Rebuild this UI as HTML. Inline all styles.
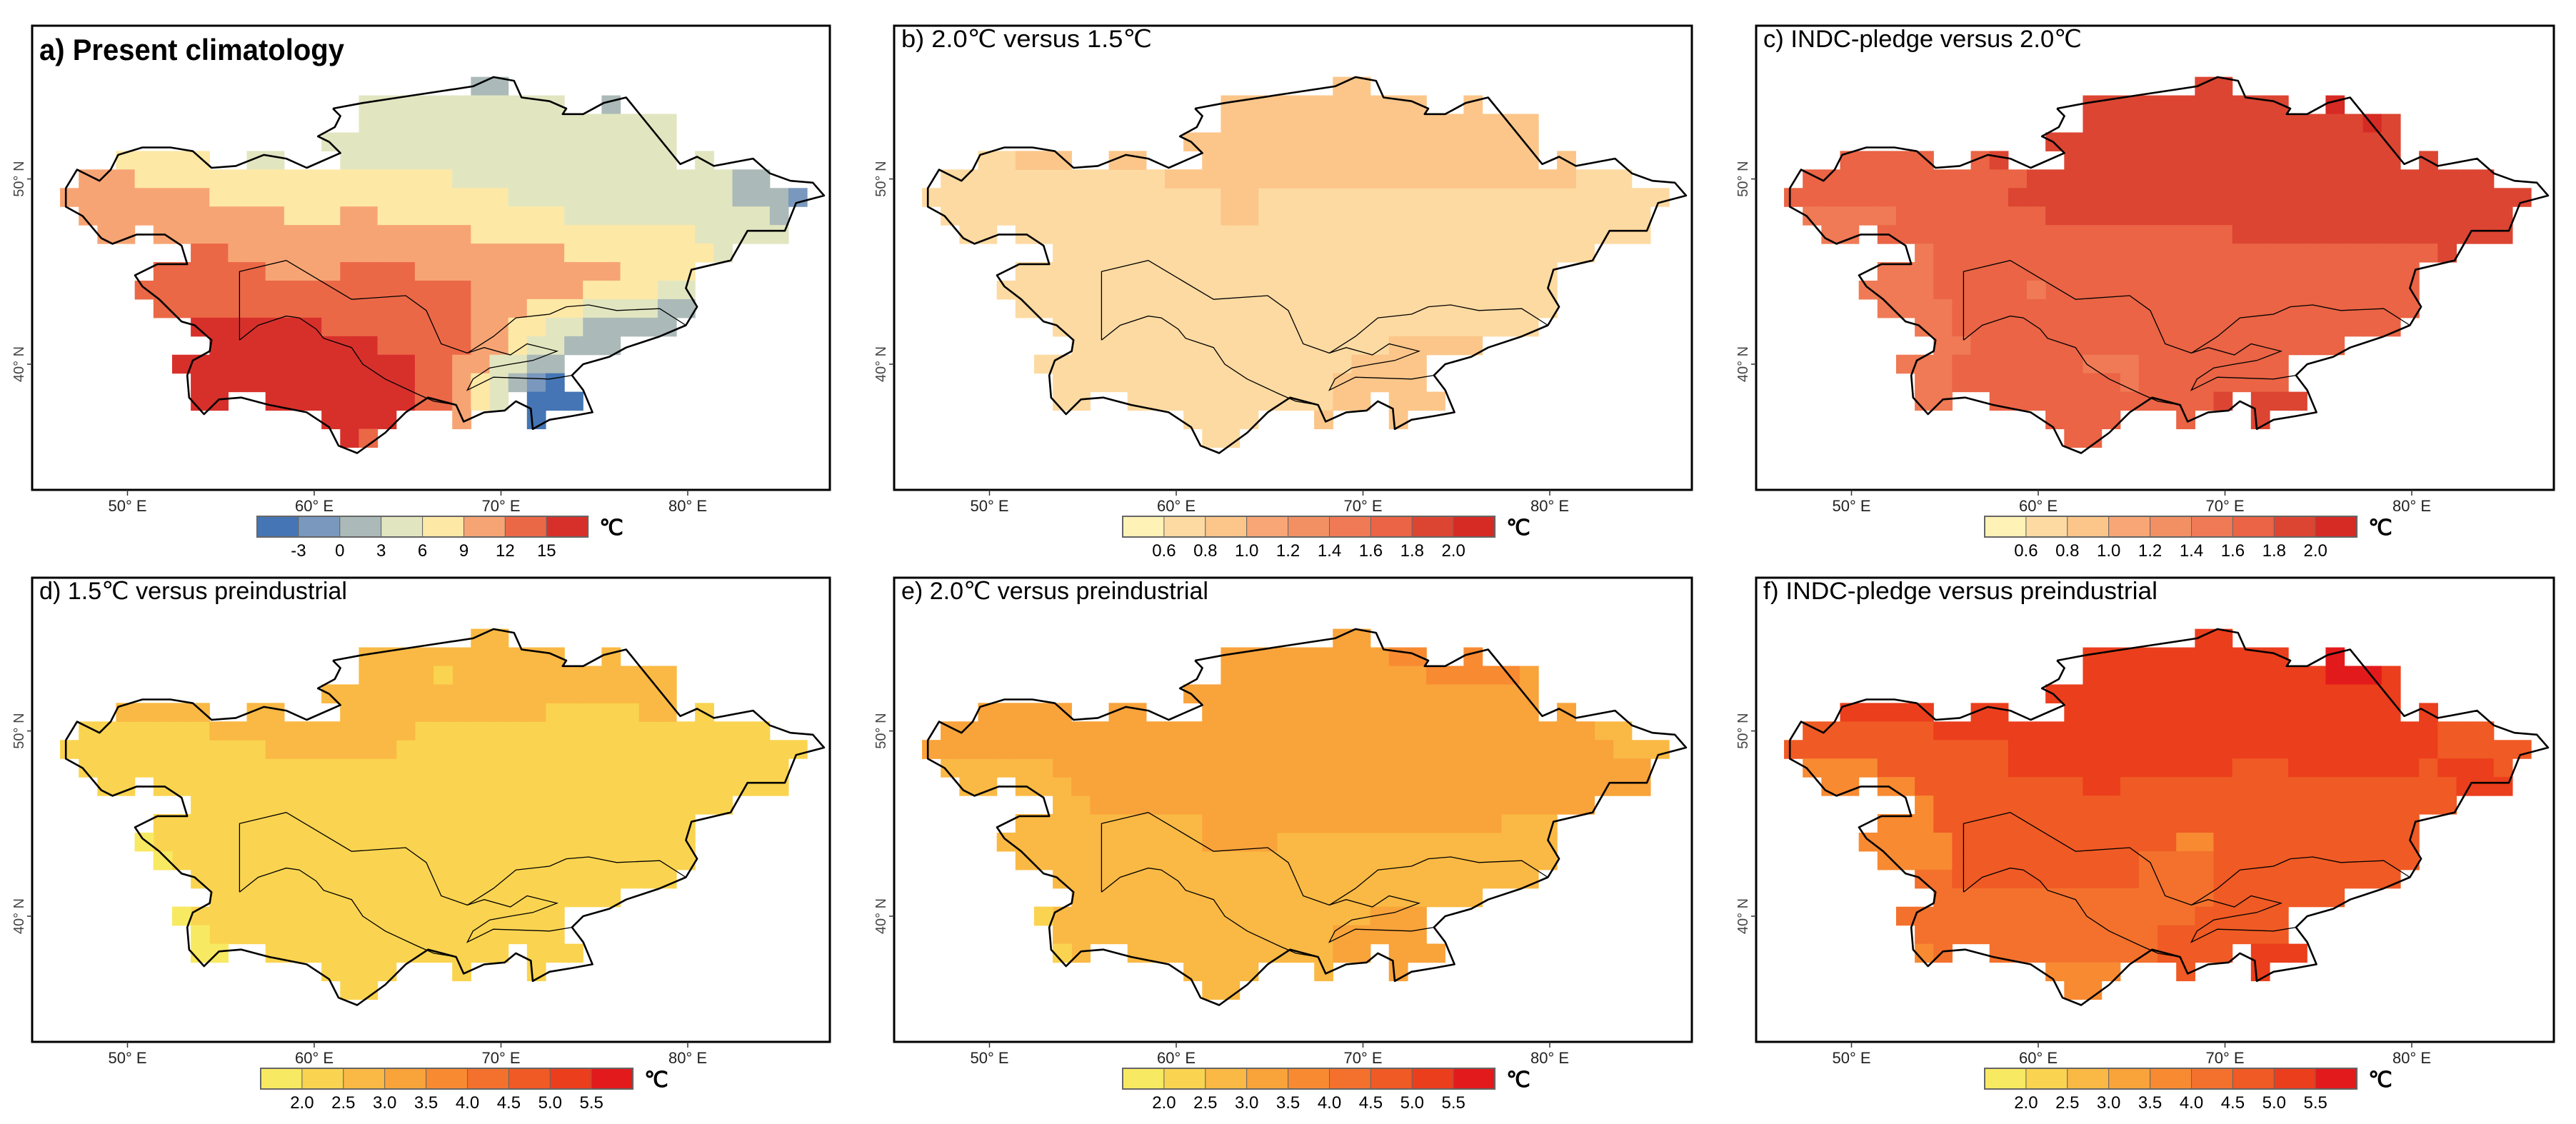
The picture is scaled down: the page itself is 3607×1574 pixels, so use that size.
<!DOCTYPE html>
<html><head><meta charset="utf-8"><style>
html,body{margin:0;padding:0;background:#fff;}
svg{display:block;}
text{font-family:"Liberation Sans Narrow","Liberation Sans",sans-serif;}
</style></head>
<body>
<svg id="fig" xmlns="http://www.w3.org/2000/svg" width="3607" height="1574" viewBox="0 0 3607 1574"></svg>
<script>
// ---------- data ----------
const panelTitles = ["a) Present climatology","b) 2.0\u2103 versus 1.5\u2103","c) INDC-pledge versus 2.0\u2103","d) 1.5\u2103 versus preindustrial","e) 2.0\u2103 versus preindustrial","f) INDC-pledge versus preindustrial"];
const lonTicks = [50,60,70,80];
const latTicks = [50,40];
const cbLabelsA = ["-3","0","3","6","9","12","15"];
const cbLabelsBC = ["0.6","0.8","1.0","1.2","1.4","1.6","1.8","2.0"];
const cbLabelsDF = ["2.0","2.5","3.0","3.5","4.0","4.5","5.0","5.5"];
const colorsA = ['#4575b4','#7a98be','#abbab8','#e2e6c0','#fee8a6','#f7a474','#eb6847','#d7302b'];
const colorsBC = ['#fff2b6','#fddaa2','#fcc68a','#f8a676','#f29064','#ef7a55','#ea6445','#dc4532','#d62a24'];
const colorsDF = ['#f8e962','#fad450','#fab944','#f9a33b','#f88a32','#f3712d','#f05a24','#eb3e1c','#e31a1c'];
const maskRows = [[55,68,69],[54,62,72],[54,75,75],[53,62,78],[52,60,78],[51,49,53],[51,56,57],[51,61,78],[51,80,80],[50,47,83],[49,46,85],[48,47,84],[47,48,49],[47,51,84],[46,53,81],[45,51,79],[44,50,79],[43,51,79],[42,53,78],[41,54,75],[40,52,72],[39,53,72],[38,53,54],[38,57,69],[38,71,73],[37,60,63],[37,67,67],[37,71,71],[36,61,62]];
const runsA = [[55,68,69,2],[54,62,72,3],[54,75,75,2],[53,62,78,3],[52,60,78,3],
[51,49,53,4],[51,56,57,3],[51,61,78,3],[51,80,80,3],
[50,47,49,5],[50,50,66,4],[50,67,81,3],[50,82,83,2],
[49,46,53,5],[49,54,69,4],[49,70,81,3],[49,82,84,2],[49,85,85,1],
[48,47,57,5],[48,58,60,4],[48,61,62,5],[48,63,72,4],[48,73,83,3],[48,84,84,2],
[47,48,49,5],[47,51,67,5],[47,68,79,4],[47,80,84,3],
[46,53,54,6],[46,55,72,5],[46,73,80,4],[46,81,81,3],
[45,51,56,6],[45,57,60,5],[45,61,64,6],[45,65,75,5],[45,76,79,4],
[44,50,67,6],[44,68,73,5],[44,74,77,4],[44,78,79,3],
[43,51,67,6],[43,68,70,5],[43,71,73,4],[43,74,77,3],[43,78,79,2],
[42,53,59,7],[42,60,67,6],[42,68,69,5],[42,70,71,4],[42,72,73,3],[42,74,78,2],
[41,54,62,7],[41,63,67,6],[41,68,69,5],[41,70,70,4],[41,71,72,3],[41,73,75,2],
[40,52,64,7],[40,65,66,6],[40,67,68,5],[40,69,70,3],[40,71,72,2],
[39,53,64,7],[39,65,66,6],[39,67,67,5],[39,68,68,4],[39,69,69,3],[39,70,70,2],[39,71,71,1],[39,72,72,0],
[38,53,54,7],[38,57,64,7],[38,65,66,6],[38,67,67,5],[38,68,68,4],[38,69,69,3],[38,71,73,0],
[37,60,63,7],[37,67,67,5],[37,71,71,0],[36,61,61,7],[36,62,62,6]];
const baseB = 1;
const runsB = [[55,68,69,2],[54,62,72,2],[54,75,75,2],[53,62,78,2],[52,60,78,2],
[51,51,53,2],[51,56,57,2],[51,61,78,2],[51,80,80,2],[50,59,80,2],[49,62,63,2],[48,62,63,2],
[41,71,75,2],[40,69,72,2],[39,68,72,2],[38,68,69,2],[38,71,73,2],[37,67,67,2],[37,71,71,2]];
const runsC = [[55,68,69,7],[54,62,72,7],[54,75,75,8],[53,62,76,7],[53,77,77,8],[53,78,78,7],[52,60,78,7],
[51,49,53,6],[51,56,56,6],[51,57,57,7],[51,61,78,7],[51,80,80,7],
[50,47,58,6],[50,59,83,7],[49,46,57,6],[49,58,85,7],
[48,47,51,5],[48,52,59,6],[48,60,84,7],
[47,48,49,5],[47,51,69,6],[47,70,84,7],
[46,53,53,5],[46,54,80,6],[46,81,81,7],
[45,51,53,5],[45,54,79,6],
[44,50,53,5],[44,54,79,6],[44,59,59,5],
[43,51,54,5],[43,55,79,6],[42,53,54,5],[42,55,78,6],[41,54,55,5],[41,56,75,6],
[40,52,54,5],[40,55,61,6],[40,62,64,5],[40,65,72,6],
[39,53,54,5],[39,55,63,6],[39,64,64,5],[39,65,72,6],
[38,53,54,5],[38,57,68,6],[38,69,69,7],[38,71,73,7],
[37,60,63,6],[37,67,67,6],[37,71,71,7],[36,61,62,6]];
const baseD = 1;
const runsD = [[55,68,69,2],[54,62,72,2],[54,75,75,2],[53,62,78,2],[53,66,66,1],[52,60,78,2],
[51,49,53,2],[51,56,57,2],[51,61,71,2],[51,77,78,2],[50,54,64,2],[49,57,63,2],
[44,50,50,0],[43,51,51,0],[40,52,52,0],[39,53,53,0],[38,53,54,0]];
const baseE = 2;
const runsE = [[55,68,69,3],[54,62,70,3],[54,71,72,4],[54,75,75,4],[53,62,72,3],[53,73,77,4],[53,78,78,3],[52,60,78,3],
[51,49,53,3],[51,56,57,3],[51,61,78,3],[51,80,80,3],
[50,47,81,3],[49,46,82,3],[48,53,84,3],[47,54,84,3],[46,55,81,3],[45,61,76,3],[44,61,64,3],
[40,70,72,3],[39,68,72,3],[38,68,69,3],[38,71,73,3],[37,71,71,3],[40,52,52,1],[38,53,53,1]];
const runsF = [[55,68,69,7],[54,62,72,7],[54,75,75,8],[53,62,74,7],[53,75,77,8],[53,78,78,7],[52,60,78,7],
[51,49,53,7],[51,56,57,7],[51,61,78,7],[51,80,80,7],
[50,47,53,6],[50,54,80,7],[50,81,83,6],[49,46,57,6],[49,58,80,7],[49,81,85,6],
[48,47,50,4],[48,51,57,6],[48,58,69,7],[48,70,72,6],[48,73,79,7],[48,80,80,6],[48,81,83,7],[48,84,84,6],
[47,48,49,4],[47,51,52,4],[47,53,61,6],[47,62,63,7],[47,64,81,6],[47,82,84,7],
[46,53,53,4],[46,54,81,6],[45,51,53,4],[45,54,79,6],
[44,50,54,4],[44,55,66,6],[44,67,68,4],[44,69,79,6],
[43,51,54,4],[43,55,64,6],[43,65,68,5],[43,69,79,6],
[42,53,54,5],[42,55,64,6],[42,65,68,5],[42,69,78,6],
[41,54,68,5],[41,69,75,6],[40,52,67,5],[40,68,72,6],[39,53,65,5],[39,66,72,6],
[38,53,53,4],[38,54,54,5],[38,57,65,5],[38,66,69,6],[38,71,73,7],
[37,60,63,4],[37,67,67,6],[37,71,71,7],[36,61,62,4]];
const outerLon = [61.0,62.6,65.2,68.5,69.6,70.7,71.1,72.6,73.5,73.3,74.4,75.5,76.7,79.6,80.5,81.4,83.5,84.4,85.5,86.7,87.3,85.8,85.2,83.2,82.3,80.2,79.9,80.5,79.9,78.5,76.7,75.8,74.4,73.8,74.4,74.9,73.8,72.6,71.7,71.6,70.8,70.2,69.1,68.0,67.6,66.1,64.9,63.8,62.3,61.3,60.8,59.6,57.6,56.1,54.9,54.1,53.3,53.2,53.5,54.4,54.5,53.6,52.9,51.7,50.8,50.4,51.6,53.2,52.9,52.0,50.5,49.2,48.6,47.6,46.7,46.7,47.3,48.5,49.1,49.5,50.8,52.3,53.5,54.5,55.8,57.3,58.5,59.6,61.4,60.8,60.2,61.1,61.4,61.0];
const outerLat = [53.8,54.1,54.5,55.0,55.5,55.3,54.4,54.2,53.8,53.5,53.5,54.1,54.4,50.8,51.2,50.7,51.1,50.3,49.9,49.8,49.1,48.7,47.2,47.2,45.6,45.1,44.1,43.1,42.1,41.5,40.9,40.4,40.0,39.4,38.6,37.4,37.2,37.0,36.5,37.6,38.0,37.5,37.4,36.9,37.8,38.2,37.4,36.3,35.2,35.6,36.6,37.4,37.8,38.2,38.1,37.3,38.2,39.4,40.2,40.7,41.3,42.1,42.3,43.5,44.2,44.8,45.4,45.4,46.4,47.0,47.0,46.5,46.8,48.0,48.5,49.5,50.5,49.9,50.5,51.3,51.7,51.7,51.5,50.6,50.7,51.3,51.1,50.6,51.4,52.0,52.3,52.8,53.4,53.8];
const borderLines = [
 [[56.0,56.0,58.5,62.0,64.9,66.0,66.8,68.2,69.6,70.8,72.6,73.5,74.7,76.2,78.5,79.9],[41.3,45.0,45.6,43.5,43.7,42.9,41.1,40.6,41.5,42.5,42.7,43.1,43.2,42.9,43.0,42.1]],
 [[56.0,57.0,58.5,59.2,60.1,60.5,62.0,62.6,63.8,65.5,66.4,67.6],[41.3,42.1,42.6,42.5,41.9,41.4,40.9,40.0,39.2,38.4,38.0,37.8]],
 [[68.2,69.1,70.5,71.4,73.0,71.7,70.5,69.4,68.5,68.2,69.6,72.6,73.8],[40.6,40.9,40.5,41.1,40.7,40.2,40.0,39.8,39.2,38.6,39.3,39.2,39.4]]
];
// ---------- layout ----------
const panelX = [45,1252,2459,45,1252,2459];
const panelY = [36,36,36,809,809,809];
const PW = 1117, PH = 650;
const NS = "http://www.w3.org/2000/svg";
const svg = document.getElementById('fig');
function mk(tag, attrs, parent){const e=document.createElementNS(NS,tag);for(const k in attrs)e.setAttribute(k,attrs[k]);(parent||svg).appendChild(e);return e;}
function xs(ox,lon){return ox+133.5+(lon-50)*26.15;}
function ys(oy,lat){return oy+214.6-(lat-50)*25.94;}

function drawPanel(i, base, runs, colors, labels){
  const ox=panelX[i], oy=panelY[i];
  const g=mk('g',{});
  
  
  const cell=(lat,L,c)=>{
    const r=mk('rect',{x:xs(ox,L+0.4)-0.3,y:ys(oy,lat+0.5)-0.3,width:26.75,height:26.5,fill:colors[c]},g);
    
    
  };
  if(base!==null){for(const m of maskRows){for(let L=m[1];L<=m[2];L++)cell(m[0],L,base);}}
  for(const r of runs){for(let L=r[1];L<=r[2];L++)cell(r[0],L,r[3]);}
  let pts=outerLon.map((lo,k)=>xs(ox,lo).toFixed(1)+','+ys(oy,outerLat[k]).toFixed(1)).join(' ');
  const ol=mk('polyline',{points:pts,fill:'none',stroke:'#000','stroke-width':2.6,'stroke-linejoin':'round'},g);
  
  
  for(const b of borderLines){
    const p=b[0].map((lo,k)=>xs(ox,lo).toFixed(1)+','+ys(oy,b[1][k]).toFixed(1)).join(' ');
    const bl=mk('polyline',{points:p,fill:'none',stroke:'#000','stroke-width':1.3},g);
    
    
  }
  const fr=mk('rect',{x:ox,y:oy,width:PW,height:PH,fill:'none',stroke:'#000','stroke-width':3},g);
  
  
  const t=mk('text',{x:ox+10,y:oy+(i===0?48:30),'font-size':i===0?42:34,'font-weight':i===0?'bold':'normal',fill:'#000'},g);
  t.textContent=panelTitles[i];
  const tw=[427,351,446,431,430,552][i];
  t.setAttribute('textLength',tw);t.setAttribute('lengthAdjust','spacingAndGlyphs');
  
  
  for(const lo of lonTicks){
    const x=xs(ox,lo);
    const tk=mk('line',{x1:x,x2:x,y1:oy+PH,y2:oy+PH+8,stroke:'#333','stroke-width':1.5},g);
    
    
    const tl=mk('text',{x:x,y:oy+PH+30,'font-size':22,'text-anchor':'middle',fill:'#222'},g);
    tl.textContent=lo+'\u00b0 E';
    
    
  }
  for(const la of latTicks){
    const y=ys(oy,la);
    const tk=mk('line',{x1:ox-7,x2:ox,y1:y,y2:y,stroke:'#333','stroke-width':1.5},g);
    
    
    const tl=mk('text',{x:0,y:0,'font-size':20,'text-anchor':'middle',fill:'#444',transform:`translate(${ox-12},${y}) rotate(-90)`},g);
    tl.textContent=la+'\u00b0 N';
    
    
  }
  const n=colors.length, sw=57.9;
  const cbx = ox + (n===8 ? 315 : 320);
  const cby = oy+PH+37;
  const cb=mk('g',{},g);
  
  
  colors.forEach((c,k)=>{
    const s=mk('rect',{x:cbx+k*sw,y:cby,width:sw,height:29,fill:c,stroke:'#666','stroke-width':1},cb);
    
    
  });
  const bo=mk('rect',{x:cbx,y:cby,width:n*sw,height:29,fill:'none',stroke:'#666','stroke-width':2},cb);
  
  
  labels.forEach((lb,k)=>{
    const tl=mk('text',{x:cbx+(k+1)*sw,y:cby+56,'font-size':24,'text-anchor':'middle',fill:'#000'},cb);
    tl.textContent=lb;
    
    
  });
  const u=mk('text',{x:cbx+n*sw+16,y:cby+26,'font-size':30,'font-weight':'bold',fill:'#000'},cb);
  u.textContent='\u2103';
  
  
}
drawPanel(0,null,runsA,colorsA,cbLabelsA);
drawPanel(1,baseB,runsB,colorsBC,cbLabelsBC);
drawPanel(2,null,runsC,colorsBC,cbLabelsBC);
drawPanel(3,baseD,runsD,colorsDF,cbLabelsDF);
drawPanel(4,baseE,runsE,colorsDF,cbLabelsDF);
drawPanel(5,null,runsF,colorsDF,cbLabelsDF);
</script>
</body></html>
